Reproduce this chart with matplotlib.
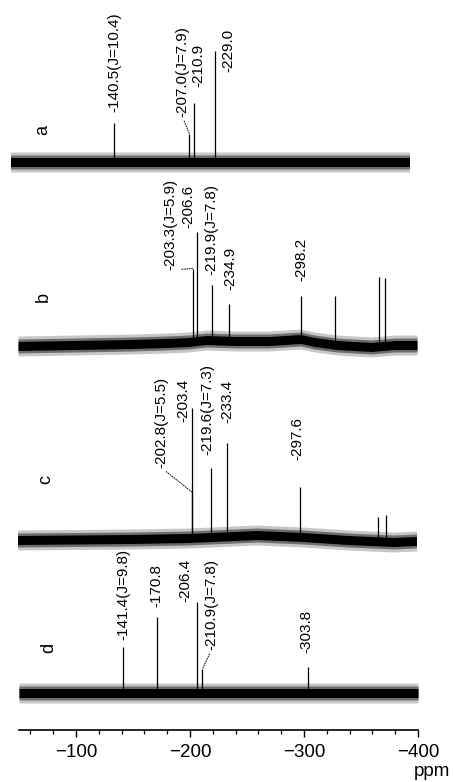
import numpy as np
import matplotlib
matplotlib.use("Agg")
import matplotlib.pyplot as plt
from matplotlib.ticker import FixedLocator

plt.rcParams['font.family'] = ['Liberation Sans', 'DejaVu Sans']

# ---------------- data (chemical shift in ppm, intensity in arbitrary units) -------------
trace_names = ["a", "b", "c", "d"]

a_ppm = [-140.5, -207.0, -210.9, -229.0]
a_int = [39, 28, 59, 111]
a_lab = ["-140.5(J=10.4)", "-207.0(J=7.9)", "-210.9", "-229.0"]

b_ppm = [-203.3, -206.6, -219.9, -234.9, -298.2, -328.0, -367.0, -372.0]
b_int = [73, 109, 55, 37, 43, 49, 69, 68]
b_lab = ["-203.3(J=5.9)", "-206.6", "-219.9(J=7.8)", "-234.9", "-298.2", "", "", ""]

c_ppm = [-202.8, -203.4, -219.6, -233.4, -297.6, -366.0, -373.0]
c_int = [46, 130, 69, 93, 50, 24, 27]
c_lab = ["-202.8(J=5.5)", "-203.4", "-219.6(J=7.3)", "-233.4", "-297.6", "", ""]

d_ppm = [-141.4, -170.8, -206.4, -210.9, -303.8]
d_int = [46, 76, 91, 24, 26]
d_lab = ["-141.4(J=9.8)", "-170.8", "-206.4", "-210.9(J=7.8)", "-303.8"]

# baseline drift (ppm, offset)
b_base_ppm = [-50, -100, -150, -180, -200, -215, -240, -270, -298, -310, -330, -360, -380, -400]
b_base_off = [-1, 0, 1, 2, 3, 5, 4, 4, 6, 3, 0, -2, 0, 0]
c_base_ppm = [-50, -150, -200, -240, -260, -300, -340, -380, -400]
c_base_off = [0, 1, 2, 4, 5, 3, 0, -2, -1]
flat_ppm = [-50, -400]
flat_off = [0, 0]

tick_vals = [-100, -200, -300, -400]
tick_labels = ["\u2212100", "\u2212200", "\u2212300", "\u2212400"]
minor_vals = [v for v in range(-60, -400, -20) if v % 100 != 0]
xlim = (-50, -400)

# ---------------- layout (pixels) ----------------
W, H = 455, 782
fig = plt.figure(figsize=(W / 100, H / 100), dpi=100)

traces = [
    dict(ppm=a_ppm, inten=a_int, lab=a_lab, bp=flat_ppm, bo=flat_off,
         base=162, shift=-8.5, letter=(43, 130),
         ldx=[1, -7, 4, 14], ldy=[50, 45, 75, 90], lead=[False, True, False, False]),
    dict(ppm=b_ppm, inten=b_int, lab=b_lab, bp=b_base_ppm, bo=b_base_off,
         base=345, shift=-1, letter=(43, 297),
         ldx=[-22, -8, 0, 2, 0, 0, 0, 0], ldy=[75, 117, 70, 55, 64, 0, 0, 0],
         lead=[True, False, False, False, False, False, False, False]),
    dict(ppm=c_ppm, inten=c_int, lab=c_lab, bp=c_base_ppm, bo=c_base_off,
         base=540, shift=-1.5, letter=(46, 479),
         ldx=[-30, -9, -3, 1, -2, 0, 0], ldy=[72, 118, 85, 117, 80, 0, 0],
         lead=[True, False, False, False, False, False, False]),
    dict(ppm=d_ppm, inten=d_int, lab=d_lab, bp=flat_ppm, bo=flat_off,
         base=693, shift=0, letter=(49, 648),
         ldx=[0, 0, -12, 9, -2], ldy=[53, 86, 91, 43, 40],
         lead=[False, False, False, True, False]),
]

x0_px, x1_px = 19, 418
below, above = 60, 200

for name, t in zip(trace_names, traces):
    left = (x0_px + t["shift"]) / W
    bottom = (H - t["base"] - below) / H
    ax = fig.add_axes([left, bottom, (x1_px - x0_px) / W, (below + above) / H])
    ax.set_xlim(*xlim)
    ax.set_ylim(-below, above)
    ax.axis("off")

    xs = np.linspace(xlim[0], xlim[1], 800)
    base = np.interp(-xs, [-p for p in t["bp"]], t["bo"])
    # noise band
    ax.fill_between(xs, base - 10, base + 10, color="#000000", alpha=0.22, lw=0)
    ax.fill_between(xs, base - 7, base + 7, color="#000000", alpha=0.45, lw=0)
    ax.fill_between(xs, base - 4.5, base + 4.5, color="#000000", lw=0)

    pk_base = np.interp([-p for p in t["ppm"]], [-p for p in t["bp"]], t["bo"])
    tops = pk_base + np.array(t["inten"])
    ax.vlines(t["ppm"], pk_base, tops, color="black", lw=0.9)

    for p, top, lab, dx, dy, lead in zip(t["ppm"], tops, t["lab"], t["ldx"], t["ldy"], t["lead"]):
        if not lab:
            continue
        kw = {}
        if lead:
            kw["arrowprops"] = dict(arrowstyle="-", linestyle=(0, (1, 1.5)), lw=0.7,
                                    color="black", relpos=(0.5, 0.0), shrinkA=1, shrinkB=0)
        ax.annotate(lab, xy=(p, top), xytext=(dx, dy - (top)),
                    textcoords="offset pixels", rotation=90, ha="center", va="bottom",
                    fontsize=11, color="black", annotation_clip=False, **kw)

    fig.text(t["letter"][0] / W, 1 - t["letter"][1] / H, name, rotation=90,
             ha="center", va="center", fontsize=13)

# ---------------- ppm scale ----------------
axs = fig.add_axes([x0_px / W, (H - 730) / H, (x1_px - x0_px) / W, 0.001])
axs.set_xlim(*xlim)
for s in ["top", "left", "right"]:
    axs.spines[s].set_visible(False)
axs.spines["bottom"].set_linewidth(1.2)
axs.set_yticks([])
axs.xaxis.set_major_locator(FixedLocator(tick_vals))
axs.set_xticklabels(tick_labels)
axs.xaxis.set_minor_locator(FixedLocator(minor_vals))
axs.tick_params(axis="x", which="major", direction="out", length=5, width=1, labelsize=13.5, pad=5)
axs.tick_params(axis="x", which="minor", direction="out", length=3, width=0.9)
fig.text(432 / W, 1 - 772 / H, "ppm", ha="center", va="center", fontsize=13.5)

fig.savefig("out.png", dpi=100)
